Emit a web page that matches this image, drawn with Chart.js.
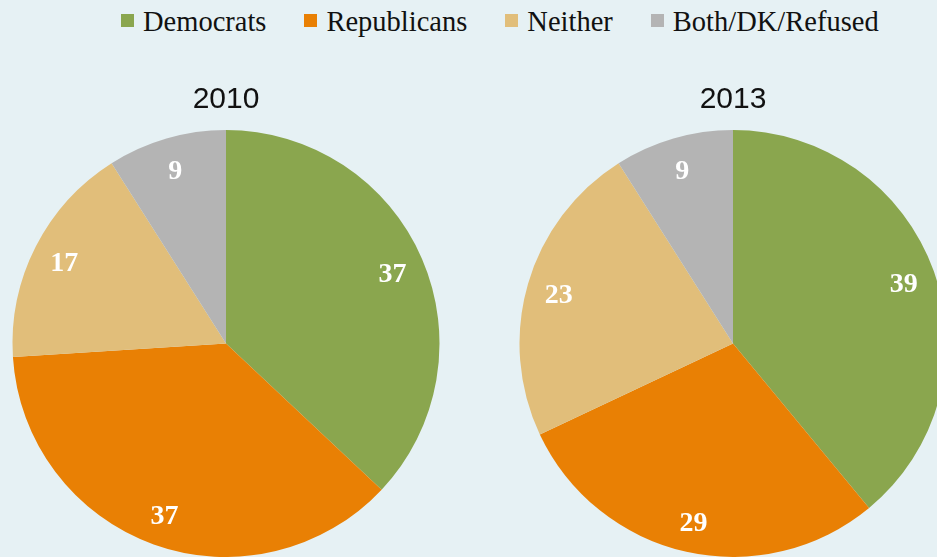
<!DOCTYPE html>
<html>
<head>
<meta charset="utf-8">
<script src="https://cdn.jsdelivr.net/npm/chart.js@4"></script>
<style>
  html, body { margin: 0; padding: 0; background: #e6f1f4; width: 937px; height: 557px; overflow: hidden; position: relative; }
  .legend { position: absolute; top: 6px; left: 121px; display: flex; align-items: center; font-family: "Liberation Serif", "Times New Roman", "DejaVu Serif", serif; font-size: 28.5px; color: #111; white-space: nowrap; }
  .legend .item { display: flex; align-items: center; margin-right: 38px; }
  .legend .sw { width: 13px; height: 13px; margin-right: 9px; margin-top: -4px; }
  canvas { position: absolute; top: 80px; }
</style>
</head>
<body>
<div class="legend js-legend"></div>
<canvas id="pie2010" width="452" height="477" style="left:0px"></canvas>
<canvas id="pie2013" width="452" height="477" style="left:507px"></canvas>
<script>
const categories = ['Democrats', 'Republicans', 'Neither', 'Both/DK/Refused'];
const colors = ['#8aa64e', '#e98004', '#e1be7a', '#b4b4b4'];
const years = ['2010', '2013'];
const values2010 = [37, 37, 17, 9];
const values2013 = [39, 29, 23, 9];

// legend built from the categories
const legend = document.querySelector('.js-legend');
categories.forEach((name, i) => {
    const item = document.createElement('div');
    item.className = 'item';
    item.innerHTML = `<span class="sw" style="background:${colors[i]}"></span>${name}`;
    legend.appendChild(item);
});

// white numbers drawn inside each slice
const sliceLabels = {
    id: 'sliceLabels',
    afterDatasetsDraw(chart) {
        const ctx = chart.ctx;
        const meta = chart.getDatasetMeta(0);
        ctx.save();
        ctx.fillStyle = '#ffffff';
        ctx.font = 'bold 28px "Liberation Serif", serif';
        ctx.textAlign = 'center';
        ctx.textBaseline = 'middle';
        meta.data.forEach((arc, i) => {
            const { x, y, startAngle, endAngle, outerRadius } = arc.getProps(['x', 'y', 'startAngle', 'endAngle', 'outerRadius'], true);
            const mid = (startAngle + endAngle) / 2;
            const r = outerRadius * 0.85;
            ctx.fillText(chart.data.datasets[0].data[i], x + Math.cos(mid) * r, y + Math.sin(mid) * r + 3); // +3 to sit like the original
        });
        ctx.restore();
    }
};

function makePie(id, year, values) {
    return new Chart(document.getElementById(id), {
        type: 'pie',
        data: {
            labels: categories,
            datasets: [{
                data: values,
                backgroundColor: colors,
                borderWidth: 0
            }]
        },
        options: {
            responsive: false,
            animation: false,
            layout: { padding: 0 },
            plugins: {
                legend: { display: false },
                tooltip: { enabled: false },
                title: {
                    display: true,
                    text: year,
                    color: '#111',
                    font: { family: '"Liberation Sans", Arial, sans-serif', size: 30, weight: 'normal' },
                    padding: { top: 2, bottom: 12 }
                }
            }
        },
        plugins: [sliceLabels]
    });
}

makePie('pie2010', years[0], values2010);
makePie('pie2013', years[1], values2013);
</script>
</body>
</html>
